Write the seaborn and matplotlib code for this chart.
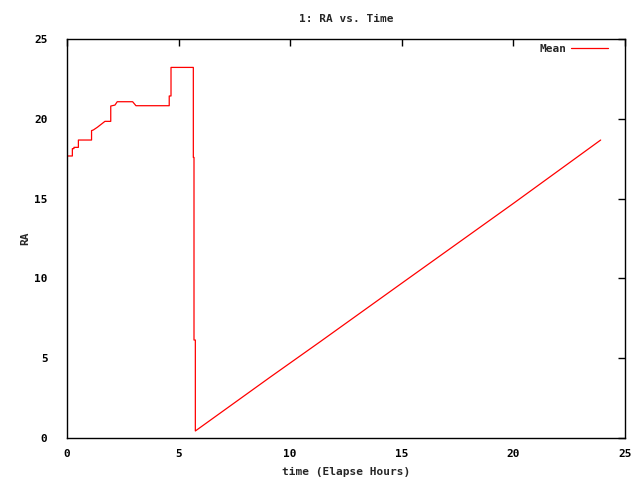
import matplotlib
matplotlib.use("Agg")
import matplotlib.pyplot as plt
import seaborn as sns
import pandas as pd

# values (time in elapsed hours, RA)
time_hours = [0.0, 0.24, 0.24, 0.31, 0.31, 0.51, 0.51, 1.10, 1.10, 1.18, 1.18,
              1.36, 1.36, 1.70, 1.75, 1.96, 1.96, 2.15, 2.25, 2.94, 3.09,
              4.58, 4.58, 4.66, 4.66, 5.66, 5.66, 5.69, 5.69, 5.75, 5.75,
              9.09, 11.34, 15.0, 20.0, 23.91]
ra_mean = [17.67, 17.67, 18.13, 18.13, 18.21, 18.21, 18.67, 18.67, 19.26, 19.30, 19.30,
           19.47, 19.47, 19.84, 19.84, 19.84, 20.80, 20.86, 21.07, 21.07, 20.82,
           20.82, 21.43, 21.43, 23.22, 23.22, 17.58, 17.58, 6.14, 6.14, 0.44,
           3.80, 6.03, 9.70, 14.70, 18.67]

df = pd.DataFrame({"time": time_hours, "RA": ra_mean, "series": "Mean"})

sns.set_style("white")
plt.rcParams["font.family"] = ["DejaVu Sans Mono"]
plt.rcParams["font.weight"] = "bold"
plt.rcParams["font.size"] = 8

fig = plt.figure(figsize=(6.4, 4.8), dpi=100)
ax = fig.add_axes([67 / 640, 42 / 480, 558 / 640, 399 / 480])

sns.lineplot(data=df, x="time", y="RA", hue="series", palette={"Mean": "#ff0000"},
             estimator=None, sort=False, linewidth=0.9, ax=ax)

ax.set_xlim(0, 25)
ax.set_ylim(0, 25)
ax.set_xticks([0, 5, 10, 15, 20, 25])
ax.set_yticks([0, 5, 10, 15, 20, 25])
ax.tick_params(direction="in", length=5, width=1, top=True, right=True,
               labelsize=8, colors="black")
ax.tick_params(axis="x", pad=8)
ax.tick_params(axis="y", pad=14)
for sp in ax.spines.values():
    sp.set_color("black")
    sp.set_linewidth(1)

ax.set_title("1: RA vs. Time", fontsize=8, fontweight="bold", pad=12)
ax.set_xlabel("time (Elapse Hours)", fontsize=8, fontweight="bold", labelpad=6)
ax.set_ylabel("RA", fontsize=8, fontweight="bold")
ax.yaxis.set_label_coords((30 - 67) / 558, 0.5)

leg = ax.legend(loc="upper right", frameon=False, handlelength=3.3,
                handletextpad=0.4, markerfirst=False, fontsize=8,
                borderaxespad=0, borderpad=0,
                bbox_to_anchor=((608 - 67) / 558, (436 - 42) / 399))
for t in leg.get_texts():
    t.set_fontweight("bold")

fig.savefig("out.png", dpi=100)
